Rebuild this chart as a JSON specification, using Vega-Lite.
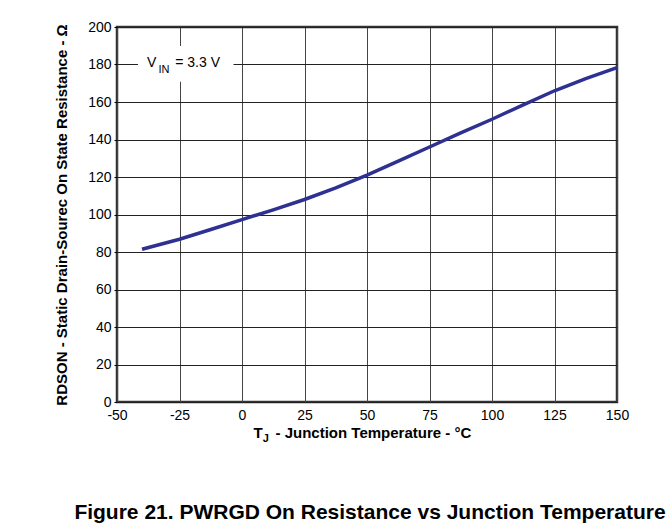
{
  "$schema": "https://vega.github.io/schema/vega-lite/v6.json",
  "width": 500,
  "height": 375,
  "autosize": {"type": "none"},
  "padding": {"left": 117, "top": 27, "right": 54, "bottom": 129},
  "background": "white",
  "config": {
    "view": {"stroke": "#333333", "strokeWidth": 2.5},
    "font": "Liberation Sans"
  },
  "title": {
    "text": "Figure 21. PWRGD On Resistance vs Junction Temperature",
    "orient": "bottom",
    "anchor": "middle",
    "frame": "group",
    "offset": 58,
    "dx": 3,
    "font": "Liberation Sans",
    "fontSize": 21,
    "fontWeight": "bold",
    "color": "black"
  },
  "resolve": {"axis": {"x": "independent", "y": "independent"}},
  "layer": [
    {
      "data": {
        "values": [
          {"tj": -40, "r": 81.5},
          {"tj": -25, "r": 86.8},
          {"tj": -12.5, "r": 92},
          {"tj": 0, "r": 97.3},
          {"tj": 12.5, "r": 102.5},
          {"tj": 25, "r": 108},
          {"tj": 37.5, "r": 114.2},
          {"tj": 50, "r": 121},
          {"tj": 62.5, "r": 128.5},
          {"tj": 75, "r": 136},
          {"tj": 87.5, "r": 143.5},
          {"tj": 100, "r": 150.8},
          {"tj": 112.5, "r": 158.5},
          {"tj": 125, "r": 166},
          {"tj": 137.5, "r": 172.5},
          {"tj": 150, "r": 178.3}
        ]
      },
      "mark": {"type": "line", "color": "#2E3192", "strokeWidth": 3.5},
      "encoding": {
        "x": {
          "field": "tj",
          "type": "quantitative",
          "scale": {"domain": [-50, 150], "nice": false, "zero": false},
          "axis": {
            "values": [-50, -25, 0, 25, 50, 75, 100, 125, 150],
            "labelExpr": "datum.value < 0 ? '-' + abs(datum.value) : '' + datum.value",
            "title": null,
            "grid": true,
            "gridColor": "#444444",
            "gridOpacity": 1,
            "ticks": false,
            "domain": false,
            "labelPadding": 6,
            "labelFontSize": 14,
            "labelFont": "Liberation Sans",
            "labelColor": "black",
            "labelFlush": false,
            "labelOverlap": false
          }
        },
        "y": {
          "field": "r",
          "type": "quantitative",
          "scale": {"domain": [0, 200], "nice": false},
          "axis": {
            "values": [0, 20, 40, 60, 80, 100, 120, 140, 160, 180, 200],
            "title": "RDSON - Static Drain-Sourec On State Resistance - Ω",
            "titleFont": "Liberation Sans",
            "titleFontSize": 15,
            "titleFontWeight": "bold",
            "titleColor": "black",
            "titlePadding": 18,
            "grid": true,
            "gridColor": "#222222",
            "gridOpacity": 1,
            "tickSize": 3,
            "tickColor": "black",
            "domain": false,
            "labelPadding": 3,
            "labelFontSize": 14,
            "labelFont": "Liberation Sans",
            "labelColor": "black",
            "labelOverlap": false
          }
        }
      }
    },
    {
      "data": {"values": [{"box": "legend"}]},
      "mark": {"type": "rect", "color": "white"},
      "encoding": {
        "x": {"datum": -41.6, "axis": null},
        "x2": {"datum": -3.4},
        "y": {"datum": 189.9, "axis": null},
        "y2": {"datum": 170.8}
      }
    },
    {
      "data": {"values": [{"t": "V"}]},
      "mark": {"type": "text", "align": "left", "baseline": "alphabetic", "fontSize": 14, "font": "Liberation Sans", "color": "black"},
      "encoding": {
        "x": {"datum": -38, "axis": null},
        "y": {"datum": 178.5, "axis": null},
        "text": {"field": "t"}
      }
    },
    {
      "data": {"values": [{"t": "IN"}]},
      "mark": {"type": "text", "align": "left", "baseline": "alphabetic", "fontSize": 11, "font": "Liberation Sans", "color": "black"},
      "encoding": {
        "x": {"datum": -33.4, "axis": null},
        "y": {"datum": 175.3, "axis": null},
        "text": {"field": "t"}
      }
    },
    {
      "data": {"values": [{"t": "= 3.3 V"}]},
      "mark": {"type": "text", "align": "left", "baseline": "alphabetic", "fontSize": 14, "font": "Liberation Sans", "color": "black"},
      "encoding": {
        "x": {"datum": -26.7, "axis": null},
        "y": {"datum": 178.5, "axis": null},
        "text": {"field": "t"}
      }
    },
    {
      "data": {"values": [{"t": "T"}]},
      "mark": {"type": "text", "align": "left", "baseline": "alphabetic", "fontSize": 15, "fontWeight": "bold", "font": "Liberation Sans", "color": "black"},
      "encoding": {
        "x": {"datum": 4.6, "axis": null},
        "y": {"datum": -19.4, "axis": null},
        "text": {"field": "t"}
      }
    },
    {
      "data": {"values": [{"t": "J"}]},
      "mark": {"type": "text", "align": "left", "baseline": "alphabetic", "fontSize": 11, "fontWeight": "bold", "font": "Liberation Sans", "color": "black"},
      "encoding": {
        "x": {"datum": 8.3, "axis": null},
        "y": {"datum": -21.2, "axis": null},
        "text": {"field": "t"}
      }
    },
    {
      "data": {"values": [{"t": "- Junction Temperature - °C"}]},
      "mark": {"type": "text", "align": "left", "baseline": "alphabetic", "fontSize": 15, "fontWeight": "bold", "font": "Liberation Sans", "color": "black"},
      "encoding": {
        "x": {"datum": 13.4, "axis": null},
        "y": {"datum": -19.4, "axis": null},
        "text": {"field": "t"}
      }
    }
  ]
}
